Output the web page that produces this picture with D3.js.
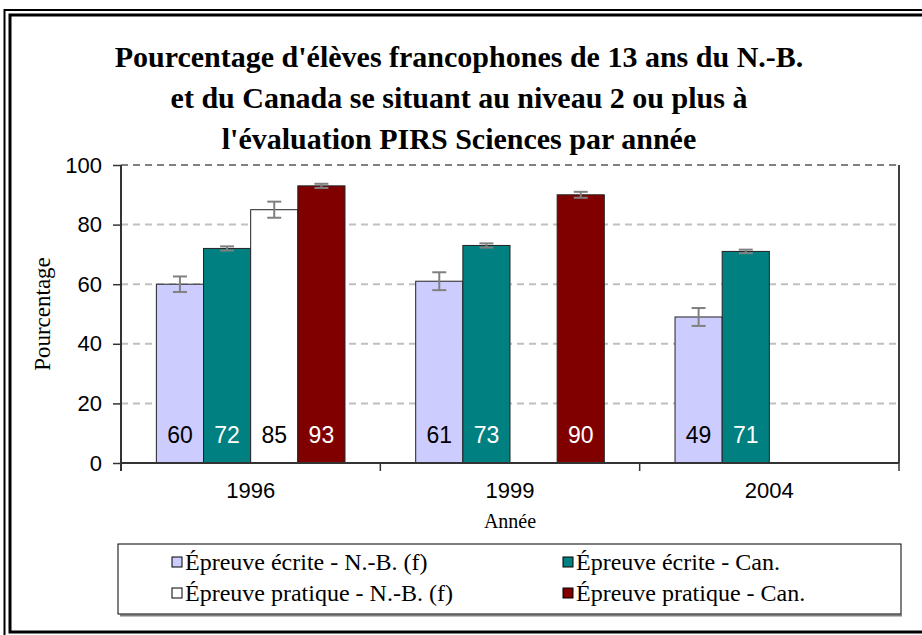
<!DOCTYPE html>
<html lang="fr">
<head>
<meta charset="utf-8">
<script src="https://cdn.jsdelivr.net/npm/d3@7/dist/d3.min.js"></script>
<style>
  html, body { margin: 0; padding: 0; background: #fff; }
  svg { display: block; }
</style>
</head>
<body>
<svg id="chart" width="922" height="635"></svg>
<script>
// Years on the category axis
const years = ["1996", "1999", "2004"];
// Series names shown in the legend
const seriesNames = [
  "Épreuve écrite - N.-B. (f)",
  "Épreuve écrite - Can.",
  "Épreuve pratique - N.-B. (f)",
  "Épreuve pratique - Can."
];
const seriesColors = ["#ccccff", "#008080", "#ffffff", "#800000"];
const labelColors = ["#000000", "#ffffff", "#000000", "#ffffff"];

// Percentage at level 2 or higher (null = not assessed that year)
const ecriteNB = [60, 61, 49];
const ecriteCan = [72, 73, 71];
const pratiqueNB = [85, null, null];
const pratiqueCan = [93, 90, null];

// Error-bar half widths (confidence intervals)
const ecriteNBErr = [2.6, 3.0, 3.0];
const ecriteCanErr = [0.7, 0.7, 0.6];
const pratiqueNBErr = [2.7, null, null];
const pratiqueCanErr = [0.7, 1.0, null];

const yTicks = [0, 20, 40, 60, 80, 100];

const titleLines = [
  "Pourcentage d'élèves francophones de 13 ans du N.-B.",
  "et du Canada se situant au niveau 2 ou plus à",
  "l'évaluation PIRS Sciences par année"
];
const yTitle = "Pourcentage";
const xTitle = "Année";

const values = [ecriteNB, ecriteCan, pratiqueNB, pratiqueCan];
const errors = [ecriteNBErr, ecriteCanErr, pratiqueNBErr, pratiqueCanErr];

const svg = d3.select("#chart");
const serif = "'Liberation Serif', 'Times New Roman', serif";
const sans = "'Liberation Sans', Arial, sans-serif";

// Outer double frame
svg.append("rect").attr("x", 4.5).attr("y", 10).attr("width", 1000).attr("height", 700)
  .attr("fill", "none").attr("stroke", "#000").attr("stroke-width", 2);
svg.append("rect").attr("x", 10).attr("y", 15).attr("width", 1000).attr("height", 617)
  .attr("fill", "none").attr("stroke", "#000").attr("stroke-width", 3);

// Title
const title = svg.append("text")
  .attr("x", 459).attr("text-anchor", "middle")
  .attr("font-family", serif).attr("font-weight", "bold").attr("font-size", 30);
titleLines.forEach((line, i) => {
  title.append("tspan").attr("x", 459).attr("y", 67 + i * 41).text(line);
});

// Plot area
const plot = { left: 121, right: 899, top: 165, bottom: 463 };

const x = d3.scaleBand().domain(years).range([plot.left, plot.right]);
const xs = d3.scaleBand().domain(d3.range(seriesNames.length))
  .range([0, x.bandwidth()]).paddingOuter(0.75).paddingInner(0);
const y = d3.scaleLinear().domain([0, 100]).range([plot.bottom, plot.top]);

// Gridlines
svg.append("g").selectAll("line").data(yTicks.filter(t => t > 0)).join("line")
  .attr("x1", plot.left).attr("x2", plot.right)
  .attr("y1", d => y(d)).attr("y2", d => y(d))
  .attr("stroke", d => d === 100 ? "#808080" : "#c0c0c0")
  .attr("stroke-width", 2)
  .attr("stroke-dasharray", "7,5");

// Right edge of the plot area
svg.append("line")
  .attr("x1", plot.right).attr("x2", plot.right)
  .attr("y1", plot.top).attr("y2", plot.bottom)
  .attr("stroke", "#000").attr("stroke-width", 1.5);

// Bars
const groups = svg.append("g").selectAll("g").data(years).join("g")
  .attr("transform", d => `translate(${x(d)},0)`);

const cells = [];
years.forEach((yr, i) => {
  values.forEach((arr, s) => {
    if (arr[i] != null) cells.push({ yr, s, v: arr[i], e: errors[s][i] });
  });
});

svg.append("g").selectAll("rect").data(cells).join("rect")
  .attr("x", d => x(d.yr) + xs(d.s))
  .attr("y", d => y(d.v))
  .attr("width", xs.bandwidth())
  .attr("height", d => y(0) - y(d.v))
  .attr("fill", d => seriesColors[d.s])
  .attr("stroke", "#222")
  .attr("stroke-width", 1);

// Error bars
const eb = svg.append("g").attr("stroke", "#808080").attr("stroke-width", 2).attr("fill", "none");
cells.filter(d => d.e != null).forEach(d => {
  const cx = x(d.yr) + xs(d.s) + xs.bandwidth() / 2;
  const y1 = y(d.v + d.e), y2 = y(d.v - d.e);
  eb.append("line").attr("x1", cx).attr("x2", cx).attr("y1", y1).attr("y2", y2);
  eb.append("line").attr("x1", cx - 7).attr("x2", cx + 7).attr("y1", y1).attr("y2", y1);
  eb.append("line").attr("x1", cx - 7).attr("x2", cx + 7).attr("y1", y2).attr("y2", y2);
});

// Value labels inside the bars
svg.append("g").selectAll("text").data(cells).join("text")
  .attr("x", d => x(d.yr) + xs(d.s) + xs.bandwidth() / 2)
  .attr("y", plot.bottom - 20)
  .attr("text-anchor", "middle")
  .attr("font-family", sans).attr("font-size", 23)
  .attr("fill", d => labelColors[d.s])
  .text(d => d.v);

// Y axis
const yAxis = svg.append("g").attr("transform", `translate(${plot.left},0)`)
  .call(d3.axisLeft(y).tickValues(yTicks).tickSize(8).tickPadding(11));
yAxis.select(".domain").attr("stroke", "#333").attr("stroke-width", 2)
  .attr("d", `M0,${plot.top}V${plot.bottom + 8}`);
yAxis.selectAll(".tick line").attr("stroke", "#333").attr("stroke-width", 1.5);
yAxis.selectAll(".tick text").attr("font-family", sans).attr("font-size", 22).attr("fill", "#000");

// X axis
const xAxis = svg.append("g").attr("transform", `translate(0,${plot.bottom})`)
  .call(d3.axisBottom(x).tickSize(0).tickPadding(19));
xAxis.select(".domain").attr("stroke", "#333").attr("stroke-width", 2)
  .attr("d", `M${plot.left},0H${plot.right}`);
xAxis.selectAll(".tick text").attr("font-family", sans).attr("font-size", 22).attr("fill", "#000");
// Category separators
const bounds = years.map(d => x(d)).concat([x(years[years.length - 1]) + x.bandwidth()]);
xAxis.selectAll(".sep").data(bounds).join("line").attr("class", "sep")
  .attr("x1", d => d).attr("x2", d => d).attr("y1", 0).attr("y2", 8)
  .attr("stroke", "#333").attr("stroke-width", 1.5);

// Axis titles
svg.append("text")
  .attr("transform", `translate(50,${(plot.top + plot.bottom) / 2}) rotate(-90)`)
  .attr("text-anchor", "middle")
  .attr("font-family", serif).attr("font-size", 23)
  .text(yTitle);
svg.append("text")
  .attr("x", (plot.left + plot.right) / 2).attr("y", 528)
  .attr("text-anchor", "middle")
  .attr("font-family", serif).attr("font-size", 20)
  .text(xTitle);

// Legend
const legend = { left: 118, top: 544, right: 901, bottom: 614 };
svg.append("line").attr("x1", legend.left + 2).attr("x2", legend.right + 1)
  .attr("y1", legend.bottom + 1.5).attr("y2", legend.bottom + 1.5)
  .attr("stroke", "#808080").attr("stroke-width", 2);
svg.append("rect")
  .attr("x", legend.left).attr("y", legend.top)
  .attr("width", legend.right - legend.left).attr("height", legend.bottom - legend.top)
  .attr("fill", "#fff").attr("stroke", "#000").attr("stroke-width", 1);

const legendCols = [172, 563];
const legendRows = [570, 601];
const li = svg.append("g").selectAll("g").data(seriesNames).join("g")
  .attr("transform", (d, i) => `translate(${legendCols[i % 2]},${legendRows[Math.floor(i / 2)]})`);
li.append("rect").attr("x", 0).attr("y", -13).attr("width", 10).attr("height", 10)
  .attr("fill", (d, i) => seriesColors[i]).attr("stroke", "#000").attr("stroke-width", 1);
li.append("text").attr("x", 13).attr("y", 0)
  .attr("font-family", serif).attr("font-size", 24)
  .text(d => d);
</script>
</body>
</html>
